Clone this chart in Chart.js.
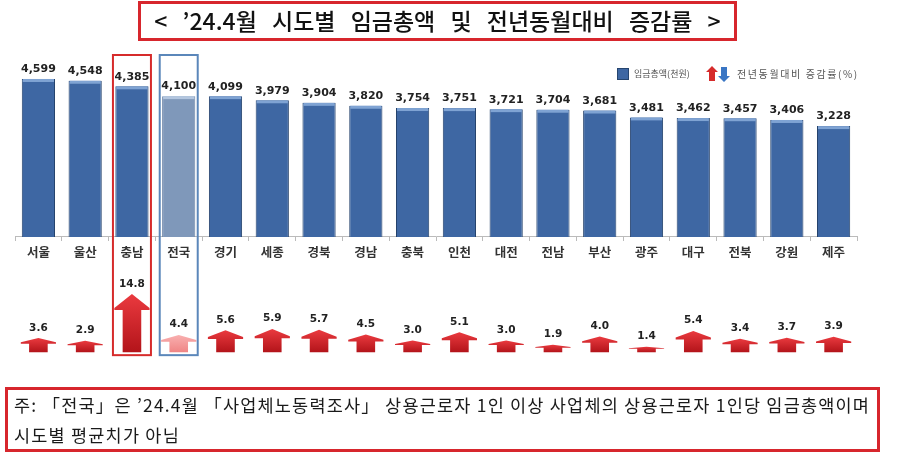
<!DOCTYPE html>
<html>
<head>
<meta charset="utf-8">
<script src="https://cdn.jsdelivr.net/npm/chart.js@4.4.1/dist/chart.umd.min.js"></script>
<style>
  html, body { margin:0; padding:0; background:#fff; }
  #wrap { position:relative; width:900px; height:462px; overflow:hidden; }
  #chart { position:absolute; left:0; top:0; }
  #title {
    position:absolute; left:138px; top:1px; width:599px; height:40px; box-sizing:border-box;
    border:3px solid #d7262d; text-align:center; line-height:33px;
    font-family:"Noto Sans CJK KR", sans-serif; font-size:23px; font-weight:500; color:#111; word-spacing:10px;
  }
  #note {
    position:absolute; left:5px; top:387px; width:875px; height:65px; box-sizing:border-box;
    border:3px solid #d7262d; padding:0 0 0 6px;
    font-family:"Noto Sans CJK KR", sans-serif; font-size:17.5px; letter-spacing:1.2px; line-height:30px; color:#1a1a1a; white-space:nowrap;
  }
</style>
</head>
<body>
<div id="wrap">
  <canvas id="chart" width="900" height="462"></canvas>
  <div id="title">&lt; ’24.4월 시도별 임금총액 및 전년동월대비 증감률 &gt;</div>
  <div id="note">주: 「전국」은 ’24.4월 「사업체노동력조사」 상용근로자 1인 이상 사업체의 상용근로자 1인당 임금총액이며<br>시도별 평균치가 아님</div>
</div>
<script>
const categories = ['서울','울산','충남','전국','경기','세종','경북','경남','충북','인천','대전','전남','부산','광주','대구','전북','강원','제주'];
const wageTotals = [4599,4548,4385,4100,4099,3979,3904,3820,3754,3751,3721,3704,3681,3481,3462,3457,3406,3228];
const yoyRates = [3.6,2.9,14.8,4.4,5.6,5.9,5.7,4.5,3.0,5.1,3.0,1.9,4.0,1.4,5.4,3.4,3.7,3.9];

const NATIONAL = '전국';
const FOCUS = '충남';

// 막대 윗면 하이라이트 + 값 라벨, 화살표 그리기
const decoPlugin = {
  id: 'deco',
  afterDatasetsDraw(chart) {
    const ctx = chart.ctx;
    // 임금총액 막대
    const barMeta = chart.getDatasetMeta(0);
    barMeta.data.forEach((el, i) => {
      const w = el.width;
      ctx.save();
      ctx.fillStyle = categories[i] === NATIONAL ? '#b3c6df' : '#7fa3d3';
      ctx.fillRect(el.x - w/2 + 1, el.y, w - 2, 3);
      ctx.fillStyle = '#222';
      ctx.font = 'bold 11px "DejaVu Sans"';
      ctx.textAlign = 'center';
      ctx.textBaseline = 'bottom';
      ctx.fillText(wageTotals[i].toLocaleString('en-US'), el.x, el.y - 4);
      ctx.restore();
    });

    // 증감률 화살표
    const arrowMeta = chart.getDatasetMeta(1);
    arrowMeta.data.forEach((el, i) => {
      const h = el.base - el.y;
      const hw = el.width / 2 + 1;
      const sw = el.width * 0.28;
      const headH = Math.min(h * 0.4, 16);
      const lip = Math.min(2, h * 0.1);
      const nat = categories[i] === NATIONAL;
      const g = ctx.createLinearGradient(0, el.y, 0, el.base);
      g.addColorStop(0, nat ? '#f9b0b0' : '#ea3a3f');
      g.addColorStop(1, nat ? '#ef8585' : '#b3141a');
      ctx.save();
      ctx.beginPath();
      ctx.moveTo(el.x, el.y);
      ctx.lineTo(el.x + hw, el.y + headH - lip);
      ctx.lineTo(el.x + hw, el.y + headH);
      ctx.lineTo(el.x + sw, el.y + headH);
      ctx.lineTo(el.x + sw, el.base);
      ctx.lineTo(el.x - sw, el.base);
      ctx.lineTo(el.x - sw, el.y + headH);
      ctx.lineTo(el.x - hw, el.y + headH);
      ctx.lineTo(el.x - hw, el.y + headH - lip);
      ctx.closePath();
      ctx.fillStyle = g;
      ctx.fill();
      ctx.fillStyle = '#222';
      ctx.font = 'bold 10.5px "DejaVu Sans"';
      ctx.textAlign = 'center';
      ctx.textBaseline = 'bottom';
      ctx.fillText(yoyRates[i].toFixed(1), el.x, el.y - 5);
      ctx.restore();
    });
  },
  afterDraw(chart) {
    const ctx = chart.ctx;
    const xs = chart.scales.x;
    const y2 = chart.scales.y2;
    const top = chart.chartArea.top + 10;
    const bottom = y2.getPixelForValue(0) + 3;
    [[FOCUS, '#d62b2b'], [NATIONAL, '#5b87ba']].forEach(([name, color]) => {
      const cx = xs.getPixelForValue(categories.indexOf(name));
      ctx.save();
      ctx.strokeStyle = color;
      ctx.lineWidth = 2;
      ctx.strokeRect(cx - 19, top, 38, bottom - top);
      ctx.restore();
    });

    // 범례
    const lx = chart.chartArea.right - 240, ly = 74;
    ctx.save();
    ctx.fillStyle = '#3e67a3';
    ctx.strokeStyle = '#26456f';
    ctx.fillRect(lx, ly - 6, 12, 12);
    ctx.strokeRect(lx + 0.5, ly - 5.5, 11, 11);
    ctx.fillStyle = '#555';
    ctx.font = '9px "Noto Sans CJK KR"';
    ctx.textBaseline = 'middle';
    ctx.fillText('임금총액(천원)', lx + 17, ly);
    // 위/아래 화살표 아이콘
    const ax = lx + 90;
    ctx.fillStyle = '#d62b2b';
    ctx.beginPath();
    ctx.moveTo(ax + 5, ly - 8); ctx.lineTo(ax + 11, ly - 2); ctx.lineTo(ax + 8, ly - 2);
    ctx.lineTo(ax + 8, ly + 7); ctx.lineTo(ax + 2, ly + 7); ctx.lineTo(ax + 2, ly - 2);
    ctx.lineTo(ax - 1, ly - 2); ctx.closePath(); ctx.fill();
    ctx.fillStyle = '#3a76c4';
    ctx.beginPath();
    ctx.moveTo(ax + 17, ly + 8); ctx.lineTo(ax + 23, ly + 2); ctx.lineTo(ax + 20, ly + 2);
    ctx.lineTo(ax + 20, ly - 7); ctx.lineTo(ax + 14, ly - 7); ctx.lineTo(ax + 14, ly + 2);
    ctx.lineTo(ax + 11, ly + 2); ctx.closePath(); ctx.fill();
    ctx.fillStyle = '#555';
    ctx.font = '10px "Noto Sans CJK KR"';
    ctx.letterSpacing = '1.6px';
    ctx.fillText('전년동월대비 증감률(%)', ax + 30, ly);
    ctx.restore();
  }
};

new Chart(document.getElementById('chart'), {
  type: 'bar',
  data: {
    labels: categories,
    datasets: [
      {
        data: wageTotals,
        yAxisID: 'y',
        backgroundColor: categories.map(c => c === NATIONAL ? '#7f98ba' : '#3e67a3'),
        borderColor: categories.map(c => c === NATIONAL ? '#6680a4' : '#24426c'),
        borderWidth: 1,
        barPercentage: 0.71,
        categoryPercentage: 1,
        grouped: false
      },
      {
        data: yoyRates,
        yAxisID: 'y2',
        backgroundColor: 'rgba(0,0,0,0)',
        borderWidth: 0,
        barPercentage: 0.71,
        categoryPercentage: 1,
        grouped: false
      }
    ]
  },
  options: {
    responsive: false,
    animation: false,
    layout: { padding: { top: 45, bottom: 82, left: 15, right: 43 } },
    plugins: { legend: { display: false }, tooltip: { enabled: false } },
    scales: {
      x: {
        position: { y: 0 },
        grid: { display: true, drawOnChartArea: false, drawTicks: true, tickLength: 4, color: '#bbb', offset: true },
        border: { display: true, color: '#bbb' },
        ticks: { color: '#333', padding: 4, font: { family: 'Noto Sans CJK KR', size: 12.5, weight: 'bold' } }
      },
      y: { display: false, min: -4162, max: 5588 },
      y2: { display: false, min: -7.1, max: 78.3 }
    }
  },
  plugins: [decoPlugin]
});
</script>
</body>
</html>
